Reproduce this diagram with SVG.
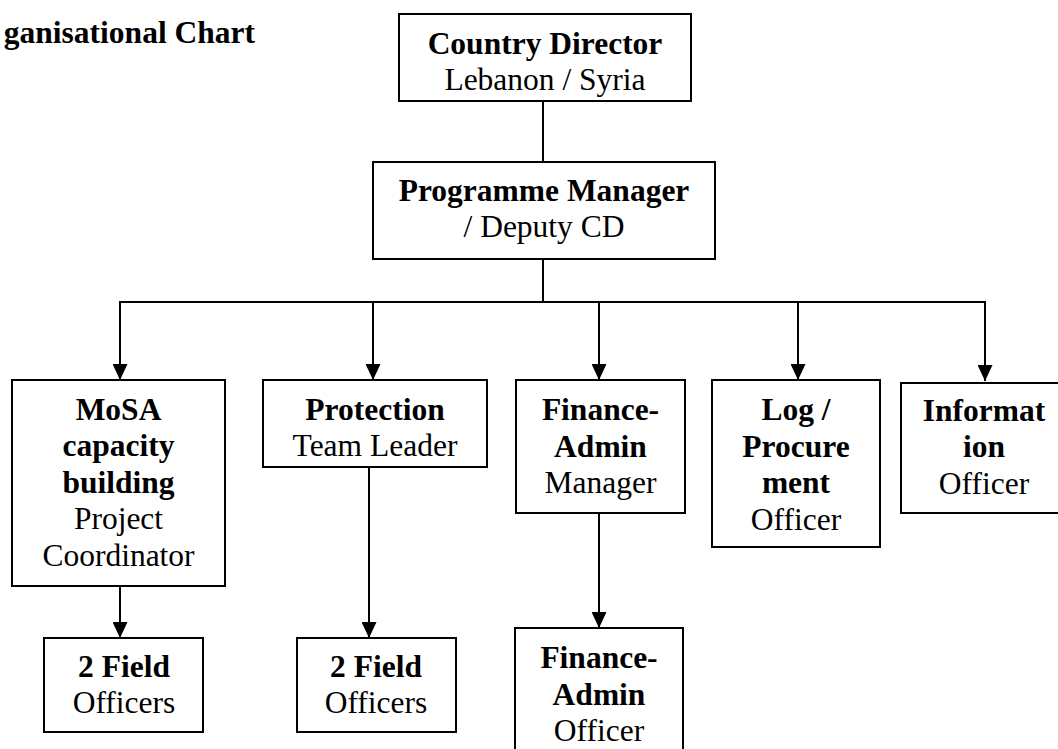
<svg xmlns="http://www.w3.org/2000/svg" width="1058" height="749" viewBox="0 0 1058 749">
<style>
  .box { fill: #ffffff; stroke: #000000; stroke-width: 2; }
  .conn { fill: none; stroke: #000000; stroke-width: 2; }
  text { font-family: "Liberation Serif", "Times New Roman", serif; font-size: 31.5px; fill: #000000; text-anchor: middle; }
  .b { font-weight: bold; }
  .title { text-anchor: end; font-weight: bold; }
</style>
<defs>
  <marker id="arrow" viewBox="0 0 16 15" refX="16" refY="7.5" markerWidth="16" markerHeight="15" markerUnits="userSpaceOnUse" orient="auto">
    <path d="M0,0 L16,7.5 L0,15 z" fill="#000000"/>
  </marker>
</defs>
<rect width="1058" height="749" fill="#ffffff"/>

<text class="title" x="255" y="43">ganisational Chart</text>

<g id="connectors">
  <line class="conn" x1="543" y1="101" x2="543" y2="162"/>
  <line class="conn" x1="543" y1="259" x2="543" y2="302"/>
  <line class="conn" x1="119" y1="302" x2="986" y2="302"/>
  <line class="conn" x1="120" y1="301" x2="120" y2="380" marker-end="url(#arrow)"/>
  <line class="conn" x1="373" y1="301" x2="373" y2="380" marker-end="url(#arrow)"/>
  <line class="conn" x1="599" y1="301" x2="599" y2="380" marker-end="url(#arrow)"/>
  <line class="conn" x1="798" y1="301" x2="798" y2="380" marker-end="url(#arrow)"/>
  <line class="conn" x1="985" y1="301" x2="985" y2="381" marker-end="url(#arrow)"/>
  <line class="conn" x1="120" y1="586" x2="120" y2="638" marker-end="url(#arrow)"/>
  <line class="conn" x1="369" y1="467" x2="369" y2="638" marker-end="url(#arrow)"/>
  <line class="conn" x1="599" y1="513" x2="599" y2="628" marker-end="url(#arrow)"/>
</g>

<g id="country-director">
  <rect class="box" x="399" y="14" width="292" height="87"/>
  <text class="b" x="545" y="54">Country Director</text>
  <text x="545" y="90">Lebanon / Syria</text>
</g>

<g id="programme-manager">
  <rect class="box" x="373" y="162" width="342" height="97"/>
  <text class="b" x="544" y="201">Programme Manager</text>
  <text x="544" y="237">/ Deputy CD</text>
</g>

<g id="mosa">
  <rect class="box" x="12" y="380" width="213" height="206"/>
  <text class="b" x="118.5" y="420">MoSA</text>
  <text class="b" x="118.5" y="456.3">capacity</text>
  <text class="b" x="118.5" y="492.6">building</text>
  <text x="118.5" y="529">Project</text>
  <text x="118.5" y="565.5">Coordinator</text>
</g>

<g id="protection">
  <rect class="box" x="263" y="380" width="224" height="87"/>
  <text class="b" x="375" y="420">Protection</text>
  <text x="375" y="456">Team Leader</text>
</g>

<g id="finance-manager">
  <rect class="box" x="516" y="380" width="169" height="133"/>
  <text class="b" x="600.5" y="420">Finance-</text>
  <text class="b" x="600.5" y="456.5">Admin</text>
  <text x="600.5" y="493">Manager</text>
</g>

<g id="log-procurement">
  <rect class="box" x="712" y="380" width="168" height="167"/>
  <text class="b" x="796" y="420">Log /</text>
  <text class="b" x="796" y="456.5">Procure</text>
  <text class="b" x="796" y="493">ment</text>
  <text x="796" y="529.5">Officer</text>
</g>

<g id="information">
  <rect class="box" x="901" y="383" width="166" height="130"/>
  <text class="b" x="984" y="420.5">Informat</text>
  <text class="b" x="984" y="457">ion</text>
  <text x="984" y="493.5">Officer</text>
</g>

<g id="field-officers-1">
  <rect class="box" x="44" y="638" width="159" height="94"/>
  <text class="b" x="124" y="677">2 Field</text>
  <text x="124" y="713">Officers</text>
</g>

<g id="field-officers-2">
  <rect class="box" x="297" y="638" width="159" height="94"/>
  <text class="b" x="376" y="677">2 Field</text>
  <text x="376" y="713">Officers</text>
</g>

<g id="finance-officer">
  <rect class="box" x="515" y="628" width="168" height="140"/>
  <text class="b" x="599" y="668">Finance-</text>
  <text class="b" x="599" y="704.5">Admin</text>
  <text x="599" y="741">Officer</text>
</g>
</svg>
